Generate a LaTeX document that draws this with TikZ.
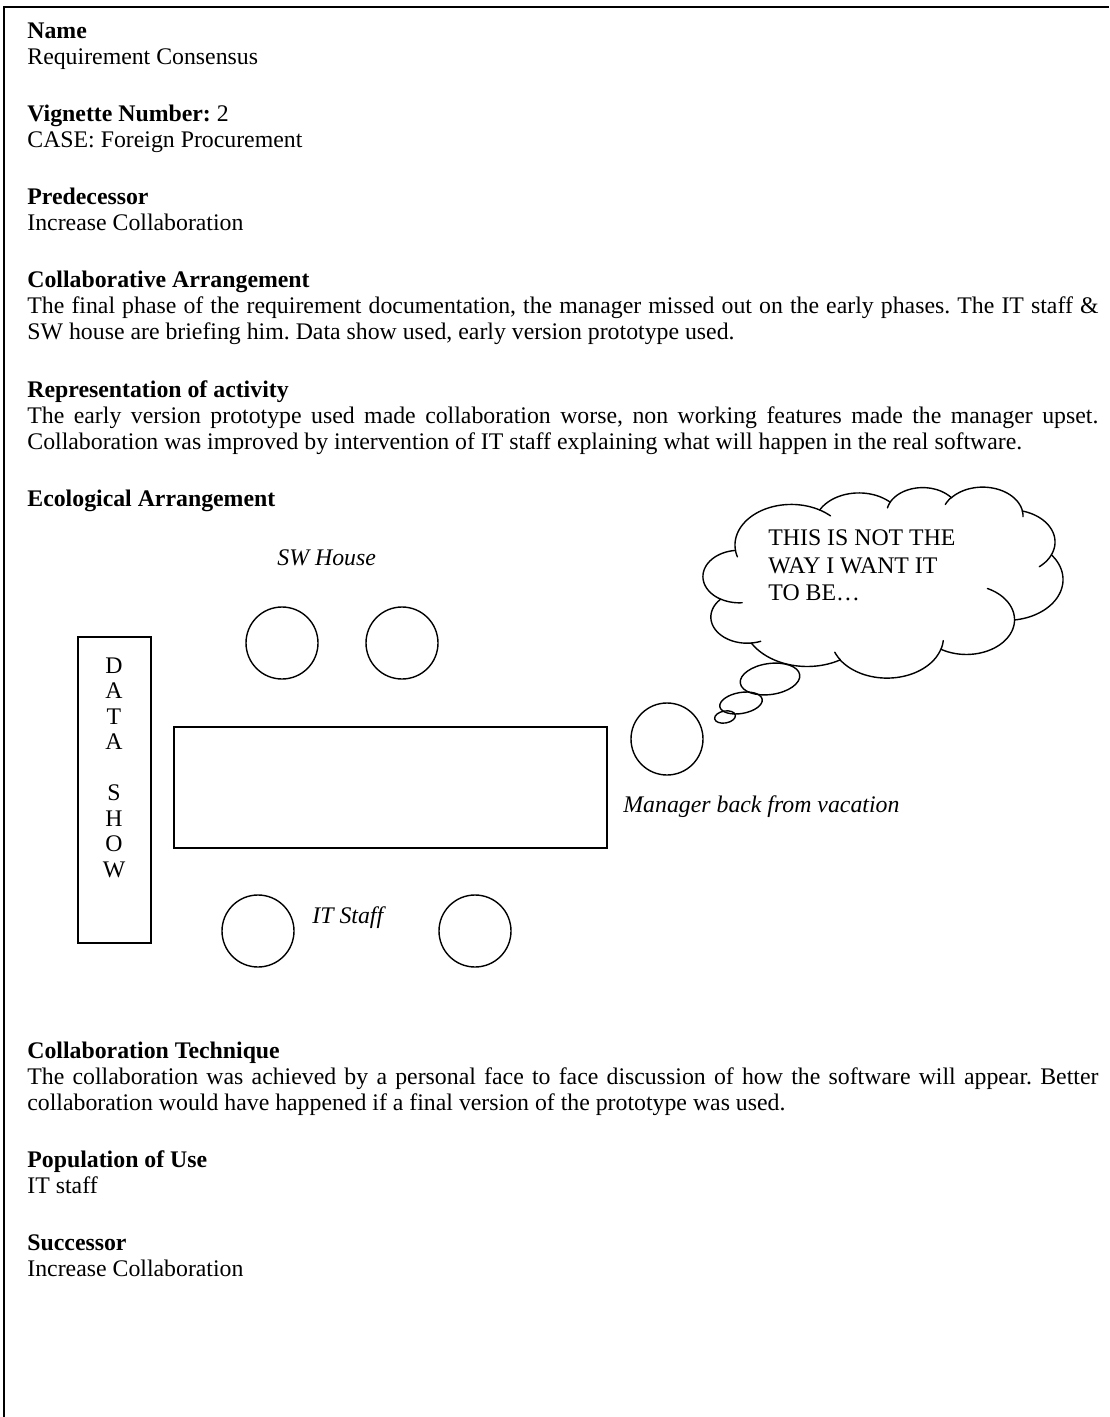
\documentclass[tikz,border=0pt]{standalone}
\usepackage{fontspec}
\setmainfont{Liberation Serif}
\usetikzlibrary{shapes.geometric}
\frenchspacing
\newlength{\parw}
\setlength{\parw}{535.5pt}
% a fully justified line of the running text
\newcommand{\jline}[1]{\makebox[\parw][s]{#1}}
% frame of the thought cloud (px units, y downwards)
\def\cX{703}\def\cY{487}\def\cW{360}\def\cH{191}
% one elliptic piece of the cloud: start point x, y, radii wR, hR
% (all in 1/432 of the frame), start angle and sweep (angles as seen in the
% unscaled square frame, clockwise)
\newcommand{\cloudarc}[6]{%
  \pgfmathsetmacro\ooa{#3/432*\cW}%
  \pgfmathsetmacro\oob{#4/432*\cH}%
  \pgfmathsetmacro\oopx{\cX+#1/432*\cW}%
  \pgfmathsetmacro\oopy{\cY+#2/432*\cH}%
  \pgfmathsetmacro\oots{atan2(#3*sin(#5),#4*cos(#5))}%
  \pgfmathsetmacro\ooth{#5+#6}%
  \pgfmathsetmacro\oote{atan2(#3*sin(\ooth),#4*cos(\ooth))}%
  \pgfmathsetmacro\oodp{\oote-\oots}%
  \pgfmathsetmacro\oodp{\oodp+360*round((#6-\oodp)/360)}%
  \pgfmathsetmacro\ooend{\oots+\oodp}%
  \pgfmathsetmacro\oocx{\oopx-\ooa*cos(\oots)}%
  \pgfmathsetmacro\oocy{\oopy-\oob*sin(\oots)}%
  \draw[cloudline] plot[domain=\oots:\ooend, samples=40, variable=\t]
        ({\oocx+\ooa*cos(\t)},{\oocy+\oob*sin(\t)});%
}
\begin{document}
\begin{tikzpicture}[x=0.5pt,y=-0.5pt,
  txt/.style={anchor=base west,inner sep=0pt,font=\fontsize{11.9pt}{13pt}\selectfont},
  head/.style={txt,font=\fontsize{11.9pt}{13pt}\selectfont\bfseries},
  lbl/.style={txt,font=\fontsize{11.9pt}{13pt}\selectfont\itshape},
  letter/.style={anchor=base,inner sep=0pt,font=\fontsize{11.9pt}{13pt}\selectfont},
  seat/.style={draw,line width=0.7pt,circle,minimum size=36pt,inner sep=0pt},
  box/.style={draw,line width=0.7pt,rectangle,inner sep=0pt},
  bubble/.style={draw,line width=0.7pt,ellipse,inner sep=0pt},
  cloudline/.style={line width=0.7pt,line cap=round,line join=round},
  ]
\useasboundingbox (0,0) rectangle (1109,1417);

% page frame (open at right and bottom)
\draw[line width=1pt] (4,1417) -- (4,7) -- (1109,7);

% ---- header sections ----
\node[head] (hname) at (27,39)  {Name};
\node[txt]  (vname) at (27,65)  {Requirement Consensus};
\node[txt]  (hvig)  at (27,122) {\textbf{Vignette Number:} 2};
\node[txt]  (vcase) at (27,148) {CASE: Foreign Procurement};
\node[head] (hpred) at (27,205) {Predecessor};
\node[txt]  (vpred) at (27,231) {Increase Collaboration};

\node[head] (harr) at (27,288) {Collaborative Arrangement};
\node[txt]  (arr1) at (27,314) {\jline{The final phase of the requirement documentation, the manager missed out on the early phases. The IT staff \&}};
\node[txt]  (arr2) at (27,340) {SW house are briefing him. Data show used, early version prototype used.};

\node[head] (hrep) at (27,397) {Representation of activity};
\node[txt]  (rep1) at (27,423) {\jline{The early version prototype used made collaboration worse, non working features made the manager upset.}};
\node[txt]  (rep2) at (27,449) {Collaboration was improved by intervention of IT staff explaining what will happen in the real software.};

\node[head] (heco) at (27,506) {Ecological Arrangement};

% ---- room layout ----
\node[lbl] (swlbl) at (277,565) {SW House};
\node[seat] (sw1) at (282,643) {};
\node[seat] (sw2) at (402,643) {};

\node[box, minimum width=36.5pt, minimum height=153pt] (dsbox) at (114.5,790) {};
\foreach \ch/\yy [count=\i] in {D/673,A/698.5,T/724,A/749.5,S/800.5,H/826,O/851.5,W/877}
  \node[letter] (ds\i) at (114,\yy) {\ch};

\node[box, minimum width=216.5pt, minimum height=60.5pt] (table) at (390.5,787.5) {};

\node[seat] (mgr) at (667,739) {};
\node[lbl] (mgrlbl) at (623,812) {Manager back from vacation};

\node[seat] (it1) at (258,931) {};
\node[seat] (it2) at (475,931) {};
\node[lbl] (itlbl) at (312,923) {IT Staff};

% thought cloud: outline of eleven puffs
\cloudarc{39.00}{143.70}{67.53}{91.90}{-190.4875}{123.7805}
\cloudarc{140.05}{52.02}{53.33}{72.67}{-144.1024}{89.9452}
\cloudarc{224.58}{34.30}{43.65}{59.45}{-145.8079}{99.7230}
\cloudarc{298.50}{23.60}{48.57}{65.95}{-130.9861}{117.2417}
\cloudarc{383.10}{54.30}{53.33}{72.73}{-78.7089}{109.0269}
\cloudarc{418.00}{153.30}{67.75}{92.20}{-46.2673}{130.2690}
\cloudarc{373.85}{300.75}{57.85}{78.67}{0.6250}{114.0333}
\cloudarc{285.45}{366.80}{67.52}{92.15}{22.4516}{115.1726}
\cloudarc{164.78}{390.90}{77.20}{105.43}{66.2426}{75.7110}
\cloudarc{58.10}{352.88}{43.60}{59.18}{-274.9421}{146.7356}
\cloudarc{21.40}{253.85}{43.45}{59.45}{-246.8285}{152.5189}
% small inner ends of the puffs
\cloudarc{46.93}{261.77}{43.45}{59.45}{86.7420}{26.4295}
\cloudarc{69.28}{348.99}{43.60}{59.18}{73.6105}{11.4475}
\cloudarc{164.78}{390.90}{67.52}{92.15}{137.6242}{14.0811}
\cloudarc{288.27}{347.51}{67.52}{92.15}{6.4533}{15.9984}
\cloudarc{341.29}{229.54}{57.85}{78.67}{-70.2924}{70.9174}
\cloudarc{417.98}{153.54}{53.33}{72.73}{30.3180}{27.7515}
\cloudarc{383.24}{54.26}{48.57}{65.95}{-13.7443}{14.8589}
\cloudarc{290.78}{39.52}{48.57}{65.95}{-149.1815}{18.1954}
\cloudarc{221.41}{47.20}{43.65}{59.45}{-163.4943}{17.6864}
\cloudarc{140.00}{51.92}{67.53}{91.90}{-66.7070}{12.3194}
\cloudarc{41.27}{157.89}{67.53}{91.90}{157.6544}{11.8582}

\node[txt] (say1) at (768,545) {THIS IS NOT THE};
\node[txt] (say2) at (768,573) {WAY I WANT IT};
\node[txt] (say3) at (768,600) {TO BE\ldots};

% trail of thought bubbles towards the manager
\node[bubble,minimum width=30pt,minimum height=15.5pt,rotate=8] (bub3) at (770,679) {};
\node[bubble,minimum width=21.5pt,minimum height=10.5pt,rotate=10] (bub2) at (741,703) {};
\node[bubble,minimum width=10.5pt,minimum height=6pt,rotate=10] (bub1) at (725,717) {};

% ---- closing sections ----
\node[head] (htech) at (27,1058) {Collaboration Technique};
\node[txt]  (tech1) at (27,1084) {\jline{The collaboration was achieved by a personal face to face discussion of how the software will appear. Better}};
\node[txt]  (tech2) at (27,1110) {collaboration would have happened if a final version of the prototype was used.};

\node[head] (hpop) at (27,1167) {Population of Use};
\node[txt]  (vpop) at (27,1193) {IT staff};

\node[head] (hsucc) at (27,1250) {Successor};
\node[txt]  (vsucc) at (27,1276) {Increase Collaboration};
\end{tikzpicture}
\end{document}
